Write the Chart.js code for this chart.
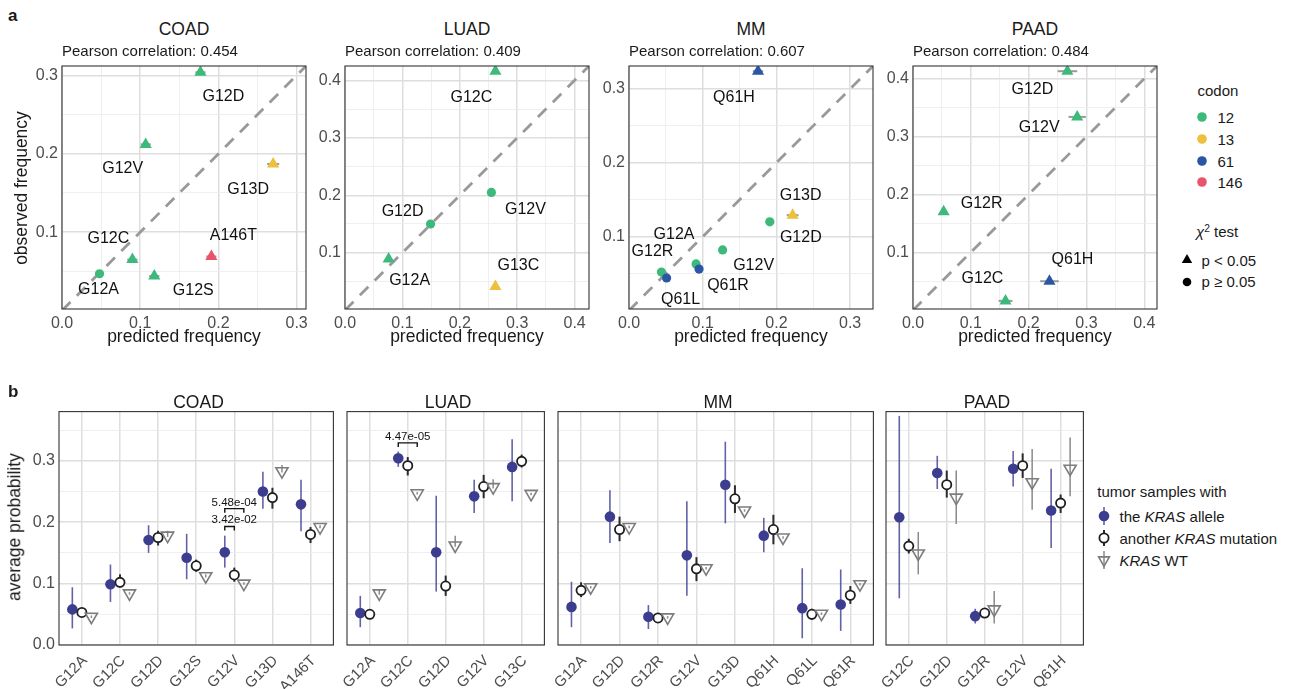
<!DOCTYPE html>
<html>
<head>
<meta charset="utf-8">
<title>KRAS allele frequencies</title>
<script src="https://cdn.jsdelivr.net/npm/chart.js@4.4.1/dist/chart.umd.min.js"></script>
<style>
  body { margin: 0; background: #fff; font-family: "Liberation Sans", Arial, sans-serif; color: #1a1a1a; }
  #fig { position: relative; width: 1289px; height: 689px; overflow: hidden; background: #fff; }
  #fig canvas { position: absolute; }
  .t { position: absolute; line-height: 1; white-space: nowrap; }
  .t sup { font-size: 0.68em; vertical-align: 0.45em; line-height: 0; }
</style>
</head>
<body>
<div id="fig"></div>
<script>
// ---------- panel a: predicted vs observed allele frequency ----------
var cancerTypes = ['COAD', 'LUAD', 'MM', 'PAAD'];
var pearsonR = ['0.454', '0.409', '0.607', '0.484'];

var codonLevels = [12, 13, 61, 146];
var codonColors = ['#3dba7b', '#edc03d', '#2b56a6', '#e9546a'];

var coadMut = ['G12D', 'G12V', 'G13D', 'A146T', 'G12C', 'G12S', 'G12A'];
var coadCodon = [12, 12, 13, 146, 12, 12, 12];
var coadPred = [0.177, 0.107, 0.270, 0.191, 0.090, 0.118, 0.048];
var coadPredErr = [0.0065, 0.0065, 0.0077, 0.0065, 0.0065, 0.0065, 0.004];
var coadObs = [0.304, 0.212, 0.187, 0.069, 0.065, 0.044, 0.047];
var coadChiSig = [true, true, true, true, true, true, false];

var luadMut = ['G12C', 'G12V', 'G12D', 'G12A', 'G13C'];
var luadCodon = [12, 12, 12, 12, 13];
var luadPred = [0.262, 0.255, 0.149, 0.076, 0.262];
var luadPredErr = [0.006, 0.005, 0.005, 0.005, 0.006];
var luadObs = [0.416, 0.205, 0.150, 0.089, 0.041];
var luadChiSig = [true, false, false, true, true];

var mmMut = ['Q61H', 'G13D', 'G12D', 'G12V', 'G12A', 'Q61R', 'G12R', 'Q61L'];
var mmCodon = [61, 13, 12, 12, 12, 61, 12, 61];
var mmPred = [0.175, 0.222, 0.191, 0.127, 0.091, 0.095, 0.044, 0.051];
var mmPredErr = [0.007, 0.008, 0.006, 0.005, 0.004, 0.004, 0.003, 0.003];
var mmObs = [0.324, 0.129, 0.120, 0.082, 0.063, 0.056, 0.052, 0.044];
var mmChiSig = [true, true, false, false, false, false, false, false];

var paadMut = ['G12D', 'G12V', 'G12R', 'Q61H', 'G12C'];
var paadCodon = [12, 12, 12, 61, 12];
var paadPred = [0.267, 0.284, 0.053, 0.236, 0.160];
var paadPredErr = [0.017, 0.015, 0.005, 0.016, 0.012];
var paadObs = [0.413, 0.334, 0.170, 0.050, 0.016];
var paadChiSig = [true, true, true, true, true];

// where each mutation name sits relative to its point (pixels)
var coadTagDx = [23, -23, -25, 22, -24, 39, -1];
var coadTagDy = [24, 24, 26, -21, -21, 15, 16];
var luadTagDx = [-24, 34, -28, 21, 23];
var luadTagDy = [26, 17, -12, 22, -21];
var mmTagDx = [-24, 8, 31, 31, -22, 29, -9, 14];
var mmTagDy = [26, -20, 16, 16, -29, 16, -20, 22];
var paadTagDx = [-35, -38, 38, 23, -23];
var paadTagDy = [18, 11, -8, -22, -22];

var freqMajor = [0, 0.1, 0.2, 0.3, 0.4];
var freqMajorLabels = ['0.0', '0.1', '0.2', '0.3', '0.4'];
var freqMinor = [0.05, 0.15, 0.25, 0.35];
var freqLimits = [0.312, 0.425, 0.331, 0.422];

// ---------- panel b: average probability per tumour group ----------
var coadAlleles = ['G12A', 'G12C', 'G12D', 'G12S', 'G12V', 'G13D', 'A146T'];
var coadAllele = [0.058, 0.099, 0.171, 0.142, 0.151, 0.250, 0.229];
var coadAlleleLo = [0.027, 0.070, 0.150, 0.107, 0.126, 0.222, 0.185];
var coadAlleleHi = [0.094, 0.131, 0.195, 0.181, 0.178, 0.282, 0.269];
var coadOther = [0.053, 0.102, 0.175, 0.129, 0.114, 0.240, 0.180];
var coadOtherLo = [0.047, 0.094, 0.162, 0.119, 0.103, 0.222, 0.166];
var coadOtherHi = [0.058, 0.115, 0.186, 0.139, 0.126, 0.256, 0.192];
var coadWT = [0.046, 0.084, 0.178, 0.112, 0.100, 0.283, 0.192];
var coadWTLo = [0.044, 0.082, 0.176, 0.110, 0.098, 0.281, 0.190];
var coadWTHi = [0.048, 0.086, 0.186, 0.115, 0.102, 0.293, 0.195];

var luadAlleles = ['G12A', 'G12C', 'G12D', 'G12V', 'G13C'];
var luadAllele = [0.052, 0.304, 0.151, 0.242, 0.290];
var luadAlleleLo = [0.029, 0.290, 0.087, 0.215, 0.234];
var luadAlleleHi = [0.080, 0.315, 0.243, 0.269, 0.335];
var luadOther = [0.050, 0.292, 0.096, 0.258, 0.299];
var luadOtherLo = [0.046, 0.276, 0.080, 0.239, 0.289];
var luadOtherHi = [0.054, 0.306, 0.113, 0.277, 0.310];
var luadWT = [0.084, 0.247, 0.162, 0.257, 0.246];
var luadWTLo = [0.082, 0.245, 0.160, 0.255, 0.244];
var luadWTHi = [0.091, 0.249, 0.178, 0.270, 0.248];

var mmAlleles = ['G12A', 'G12D', 'G12R', 'G12V', 'G13D', 'Q61H', 'Q61L', 'Q61R'];
var mmAllele = [0.062, 0.209, 0.046, 0.146, 0.261, 0.178, 0.060, 0.066];
var mmAlleleLo = [0.029, 0.166, 0.026, 0.080, 0.198, 0.151, 0.011, 0.023];
var mmAlleleHi = [0.103, 0.252, 0.065, 0.234, 0.331, 0.207, 0.125, 0.123];
var mmOther = [0.089, 0.188, 0.044, 0.124, 0.238, 0.188, 0.050, 0.081];
var mmOtherLo = [0.078, 0.169, 0.041, 0.104, 0.215, 0.164, 0.041, 0.067];
var mmOtherHi = [0.102, 0.209, 0.048, 0.143, 0.260, 0.212, 0.059, 0.096];
var mmWT = [0.094, 0.192, 0.045, 0.125, 0.219, 0.175, 0.051, 0.099];
var mmWTLo = [0.092, 0.190, 0.043, 0.123, 0.217, 0.173, 0.049, 0.097];
var mmWTHi = [0.096, 0.194, 0.047, 0.127, 0.221, 0.177, 0.053, 0.101];

var paadAlleles = ['G12C', 'G12D', 'G12R', 'G12V', 'Q61H'];
var paadAllele = [0.208, 0.280, 0.047, 0.287, 0.219];
var paadAlleleLo = [0.076, 0.254, 0.035, 0.258, 0.158];
var paadAlleleHi = [0.373, 0.308, 0.059, 0.316, 0.287];
var paadOther = [0.161, 0.261, 0.052, 0.292, 0.231];
var paadOtherLo = [0.149, 0.240, 0.048, 0.272, 0.215];
var paadOtherHi = [0.173, 0.284, 0.056, 0.312, 0.245];
var paadWT = [0.149, 0.240, 0.058, 0.265, 0.287];
var paadWTLo = [0.115, 0.197, 0.035, 0.220, 0.242];
var paadWTHi = [0.184, 0.284, 0.088, 0.319, 0.338];

// significance brackets (allele group vs other group)
var coadTestAllele = ['G12V', 'G12V'];
var coadTestVs = ['wt', 'other'];
var coadTestP = ['5.48e-04', '3.42e-02'];
var coadTestY = [0.222, 0.193];
var luadTestAllele = ['G12C'];
var luadTestVs = ['wt'];
var luadTestP = ['4.47e-05'];
var luadTestY = [0.329];

var probMajor = [0, 0.1, 0.2, 0.3];
var probMajorLabels = ['0.0', '0.1', '0.2', '0.3'];
var probMinor = [0.05, 0.15, 0.25, 0.35];
var probMax = 0.38;

// ---------- layout ----------
var FONT = '"Liberation Sans", Arial, sans-serif';
Chart.defaults.font.family = FONT;
var fig = document.getElementById('fig');
var aLeft = [62, 345, 629, 913];
var aTop = 66, aSize = 244, aH = 243;
var bBoxes = [{l: 59, w: 279}, {l: 347, w: 202}, {l: 558, w: 320}, {l: 886, w: 202}];
var bTop = 411, bH = 234;
var catPad = 0.6;
var dodge = {allele: -0.25, other: 0, wt: 0.25};

function addText(html, x, base, size, align, style) {
  var d = document.createElement('div');
  d.className = 't';
  d.innerHTML = html;
  d.style.fontSize = size + 'px';
  d.style.left = x + 'px';
  d.style.top = (base - 0.8465 * size) + 'px';
  if (align == 'center') d.style.transform = 'translateX(-50%)';
  if (style) Object.assign(d.style, style);
  fig.appendChild(d);
  return d;
}
function addVText(html, baseX, cy, size) {
  var d = document.createElement('div');
  d.className = 't';
  d.innerHTML = html;
  d.style.fontSize = size + 'px';
  d.style.left = (baseX - 0.3465 * size) + 'px';
  d.style.top = cy + 'px';
  d.style.transform = 'translate(-50%,-50%) rotate(-90deg)';
  fig.appendChild(d);
}
function addIcon(cx, cy, inner) {
  var s = document.createElementNS('http://www.w3.org/2000/svg', 'svg');
  s.setAttribute('width', 24);
  s.setAttribute('height', 24);
  s.style.position = 'absolute';
  s.style.left = (cx - 12) + 'px';
  s.style.top = (cy - 12) + 'px';
  s.innerHTML = inner;
  fig.appendChild(s);
}
function makeCanvas(x, y, w, h) {
  var c = document.createElement('canvas');
  c.width = w; c.height = h;
  c.style.left = x + 'px'; c.style.top = y + 'px';
  c.style.width = w + 'px'; c.style.height = h + 'px';
  fig.appendChild(c);
  return c;
}
function majorIndex(v, major) {
  for (var i = 0; i < major.length; i++) if (Math.abs(v - major[i]) < 1e-6) return i;
  return -1;
}

// error bars, mutation names, brackets and panel frame
var extras = {
  id: 'extras',
  beforeDatasetDraw: function(chart, args) {
    var ds = chart.data.datasets[args.index];
    var ctx = chart.ctx, xs = chart.scales.x, ys = chart.scales.y;
    ctx.save();
    if (ds.xErr) {
      ctx.strokeStyle = '#9a9a9a';
      ctx.lineWidth = 2;
      ds.data.forEach(function(p, i) {
        var y = ys.getPixelForValue(p.y);
        ctx.beginPath();
        ctx.moveTo(xs.getPixelForValue(p.x - ds.xErr[i]), y);
        ctx.lineTo(xs.getPixelForValue(p.x + ds.xErr[i]), y);
        ctx.stroke();
      });
    }
    if (ds.lo) {
      ctx.strokeStyle = ds.errColor;
      ctx.lineWidth = ds.errWidth;
      ds.data.forEach(function(p, i) {
        var x = xs.getPixelForValue(p.x);
        ctx.beginPath();
        ctx.moveTo(x, ys.getPixelForValue(ds.lo[i]));
        ctx.lineTo(x, ys.getPixelForValue(ds.hi[i]));
        ctx.stroke();
      });
    }
    ctx.restore();
  },
  afterDraw: function(chart) {
    var ctx = chart.ctx, a = chart.chartArea, xs = chart.scales.x, ys = chart.scales.y;
    ctx.save();
    chart.data.datasets.forEach(function(ds) {
      if (ds.tags) {
        ctx.font = '16px ' + FONT;
        ctx.fillStyle = '#111';
        ctx.textAlign = 'center';
        ctx.textBaseline = 'middle';
        ds.data.forEach(function(p, i) {
          ctx.fillText(ds.tags[i], xs.getPixelForValue(p.x) + ds.tagDx[i], ys.getPixelForValue(p.y) + ds.tagDy[i]);
        });
      }
      if (ds.brackets) {
        ds.brackets.forEach(function(b) {
          var x1 = xs.getPixelForValue(b.x1), x2 = xs.getPixelForValue(b.x2), y = ys.getPixelForValue(b.y);
          ctx.strokeStyle = '#111';
          ctx.lineWidth = 1.4;
          ctx.beginPath();
          ctx.moveTo(x1, y + 4); ctx.lineTo(x1, y); ctx.lineTo(x2, y); ctx.lineTo(x2, y + 4);
          ctx.stroke();
          ctx.font = '11.5px ' + FONT;
          ctx.fillStyle = '#111';
          ctx.textAlign = 'center';
          ctx.textBaseline = 'alphabetic';
          ctx.fillText(b.label, xs.getPixelForValue(b.xc), y - 3);
        });
      }
    });
    ctx.strokeStyle = '#333';
    ctx.lineWidth = 1.1;
    ctx.strokeRect(a.left, a.top, a.right - a.left, a.bottom - a.top);
    ctx.restore();
  }
};
Chart.register(extras);

function valueAxis(min, max, major, labels, minor, fitSize, horizontal, showTicks) {
  var vals = major.concat(minor).filter(function(v) { return v >= min - 1e-9 && v <= max + 1e-9; })
    .sort(function(p, q) { return p - q; });
  return {
    type: 'linear', min: min, max: max,
    afterBuildTicks: function(s) { s.ticks = vals.map(function(v) { return {value: v}; }); },
    afterFit: function(s) {
      if (horizontal) { s.height = fitSize; s.paddingLeft = 0; s.paddingRight = 0; }
      else { s.width = fitSize; s.paddingTop = 0; s.paddingBottom = 0; }
    },
    border: {display: false},
    grid: {
      drawTicks: false,
      color: function(c) { return c.tick && majorIndex(c.tick.value, major) < 0 ? '#ebebeb' : '#dedede'; },
      lineWidth: function(c) { return c.tick && majorIndex(c.tick.value, major) < 0 ? 0.8 : 1.5; }
    },
    ticks: {
      display: showTicks, autoSkip: false, maxRotation: 0, minRotation: 0,
      padding: horizontal ? 5 : 4, color: '#4d4d4d', font: {family: FONT, size: 16},
      callback: function(v) { var i = majorIndex(v, major); return i >= 0 ? labels[i] : ''; }
    }
  };
}

var baseOpts = {
  animation: false, responsive: false, events: [],
  plugins: {legend: {display: false}, tooltip: {enabled: false}}
};

function freqPanel(k, mut, codon, pred, predErr, obs, sig, tagDx, tagDy) {
  var lim = freqLimits[k];
  var yw = 45, xh = 26, pt = 8, pr = 8;
  var cv = makeCanvas(aLeft[k] - yw, aTop - pt, aSize + yw + pr, aH + pt + xh);
  new Chart(cv, {
    type: 'scatter',
    data: {datasets: [
      {
        data: pred.map(function(p, i) { return {x: p, y: obs[i]}; }),
        xErr: predErr, tags: mut, tagDx: tagDx, tagDy: tagDy,
        pointStyle: sig.map(function(s) { return s ? 'triangle' : 'circle'; }),
        pointRadius: sig.map(function(s) { return s ? 7 : 4.6; }),
        backgroundColor: codon.map(function(c) { return codonColors[codonLevels.indexOf(c)]; }),
        borderWidth: 0, order: 0
      },
      {
        type: 'line', data: [{x: 0, y: 0}, {x: lim, y: lim}],
        borderColor: '#999', borderWidth: 2.8, borderDash: [12, 9], pointRadius: 0, order: 1
      }
    ]},
    options: Object.assign({}, baseOpts, {
      layout: {padding: {top: pt, right: pr, left: 0, bottom: 0}},
      scales: {
        x: valueAxis(0, lim, freqMajor, freqMajorLabels, freqMinor, xh, true, true),
        y: valueAxis(0.002, lim, freqMajor, freqMajorLabels, freqMinor, yw, false, true)
      }
    })
  });
  var cx = aLeft[k] + aSize / 2;
  addText(cancerTypes[k], cx, 36, 17.5, 'center');
  addText('Pearson correlation: ' + pearsonR[k], aLeft[k], 55.5, 15);
  addText('predicted frequency', cx, 343, 17.5, 'center');
}

function probPanel(k, cats, allele, alleleLo, alleleHi, other, otherLo, otherHi, wt, wtLo, wtHi, testAllele, testVs, testP, testY) {
  var box = bBoxes[k];
  var yw = k == 0 ? 45 : 30, pt = 8, pr = 4, xh = 60;
  var cv = makeCanvas(box.l - yw, bTop - pt, box.w + yw + pr, bH + pt + xh);
  function pts(vals, off) { return vals.map(function(v, i) { return {x: i + 1 + off, y: v}; }); }
  var brackets = (testAllele || []).map(function(a, i) {
    var c = cats.indexOf(a) + 1;
    return {x1: c + dodge.allele, x2: c + dodge[testVs[i]], xc: c, y: testY[i], label: testP[i]};
  });
  new Chart(cv, {
    type: 'scatter',
    data: {datasets: [
      {
        data: pts(allele, dodge.allele), lo: alleleLo, hi: alleleHi, brackets: brackets,
        errColor: 'rgba(70,70,150,0.85)', errWidth: 1.6,
        pointStyle: 'circle', pointRadius: 5.3, backgroundColor: '#3d3d8f', borderWidth: 0, order: 2
      },
      {
        data: pts(other, dodge.other), lo: otherLo, hi: otherHi,
        errColor: '#2b2b2b', errWidth: 2,
        pointStyle: 'circle', pointRadius: 4.6, backgroundColor: '#fff', borderColor: '#1f1f1f', borderWidth: 1.8, order: 1
      },
      {
        data: pts(wt, dodge.wt), lo: wtLo, hi: wtHi,
        errColor: '#8a8a8a', errWidth: 1.5,
        pointStyle: 'triangle', rotation: 180, pointRadius: 7, backgroundColor: 'rgba(0,0,0,0)',
        borderColor: '#7d7d7d', borderWidth: 1.6, order: 0
      }
    ]},
    options: Object.assign({}, baseOpts, {
      layout: {padding: {top: pt, right: pr, left: 0, bottom: 0}},
      scales: {
        x: {
          type: 'linear', min: 1 - catPad, max: cats.length + catPad,
          afterBuildTicks: function(s) { s.ticks = cats.map(function(c, i) { return {value: i + 1}; }); },
          afterFit: function(s) { s.height = xh; s.paddingLeft = 0; s.paddingRight = 0; },
          border: {display: false},
          grid: {drawTicks: false, color: '#dedede', lineWidth: 1.5},
          ticks: {
            autoSkip: false, minRotation: 45, maxRotation: 45, padding: 7, labelOffset: 3,
            color: '#4d4d4d', font: {family: FONT, size: 15},
            callback: function(v) { return cats[Math.round(v) - 1]; }
          }
        },
        y: valueAxis(0, probMax, probMajor, probMajorLabels, probMinor, yw, false, k == 0)
      }
    })
  });
  addText(cancerTypes[k], box.l + box.w / 2, 408.5, 17.5, 'center');
}

// ---------- build panel a ----------
addText('a', 8, 21, 17, null, {fontWeight: 'bold'});
freqPanel(0, coadMut, coadCodon, coadPred, coadPredErr, coadObs, coadChiSig, coadTagDx, coadTagDy);
freqPanel(1, luadMut, luadCodon, luadPred, luadPredErr, luadObs, luadChiSig, luadTagDx, luadTagDy);
freqPanel(2, mmMut, mmCodon, mmPred, mmPredErr, mmObs, mmChiSig, mmTagDx, mmTagDy);
freqPanel(3, paadMut, paadCodon, paadPred, paadPredErr, paadObs, paadChiSig, paadTagDx, paadTagDy);
addVText('observed frequency', 28, 188, 17.5);

// codon / chi-square legend
addText('codon', 1197.5, 95.5, 15);
var codonKeyY = [117, 139, 161, 182];
codonLevels.forEach(function(c, i) {
  addIcon(1202, codonKeyY[i], '<circle cx="12" cy="12" r="4.8" fill="' + codonColors[i] + '"/>');
  addText(String(c), 1217.5, codonKeyY[i] + 5.4, 15);
});
addText('<i>χ</i><sup>2</sup> test', 1196, 237, 15);
addIcon(1187, 259.5, '<polygon points="12,6 17.2,15 6.8,15" fill="#000"/>');
addText('p &lt; 0.05', 1201.5, 265.2, 15);
addIcon(1187, 281.5, '<circle cx="12" cy="12" r="4.3" fill="#000"/>');
addText('p ≥ 0.05', 1201.5, 286.9, 15);

// ---------- build panel b ----------
addText('b', 8, 397, 17, null, {fontWeight: 'bold'});
probPanel(0, coadAlleles, coadAllele, coadAlleleLo, coadAlleleHi, coadOther, coadOtherLo, coadOtherHi, coadWT, coadWTLo, coadWTHi,
  coadTestAllele, coadTestVs, coadTestP, coadTestY);
probPanel(1, luadAlleles, luadAllele, luadAlleleLo, luadAlleleHi, luadOther, luadOtherLo, luadOtherHi, luadWT, luadWTLo, luadWTHi,
  luadTestAllele, luadTestVs, luadTestP, luadTestY);
probPanel(2, mmAlleles, mmAllele, mmAlleleLo, mmAlleleHi, mmOther, mmOtherLo, mmOtherHi, mmWT, mmWTLo, mmWTHi);
probPanel(3, paadAlleles, paadAllele, paadAlleleLo, paadAlleleHi, paadOther, paadOtherLo, paadOtherHi, paadWT, paadWTLo, paadWTHi);
addVText('average probability', 21.5, 527, 17.5);

// tumour group legend
addText('tumor samples with', 1097.3, 496.5, 15);
addIcon(1104, 516, '<line x1="12" y1="3" x2="12" y2="21" stroke="rgba(70,70,150,0.85)" stroke-width="1.6"/>' +
  '<circle cx="12" cy="12" r="5.3" fill="#3d3d8f"/>');
addText('the <i>KRAS</i> allele', 1119.5, 521.4, 15);
addIcon(1104, 538, '<line x1="12" y1="4" x2="12" y2="20" stroke="#2b2b2b" stroke-width="2"/>' +
  '<circle cx="12" cy="12" r="4.6" fill="#fff" stroke="#1f1f1f" stroke-width="1.8"/>');
addText('another <i>KRAS</i> mutation', 1119.5, 543.4, 15);
addIcon(1104, 560, '<line x1="12" y1="3" x2="12" y2="21" stroke="#8a8a8a" stroke-width="1.5"/>' +
  '<polygon points="12,18.3 17.4,8.9 6.6,8.9" fill="none" stroke="#7d7d7d" stroke-width="1.6"/>');
addText('<i>KRAS</i> WT', 1119.5, 565.4, 15);
</script>
</body>
</html>
